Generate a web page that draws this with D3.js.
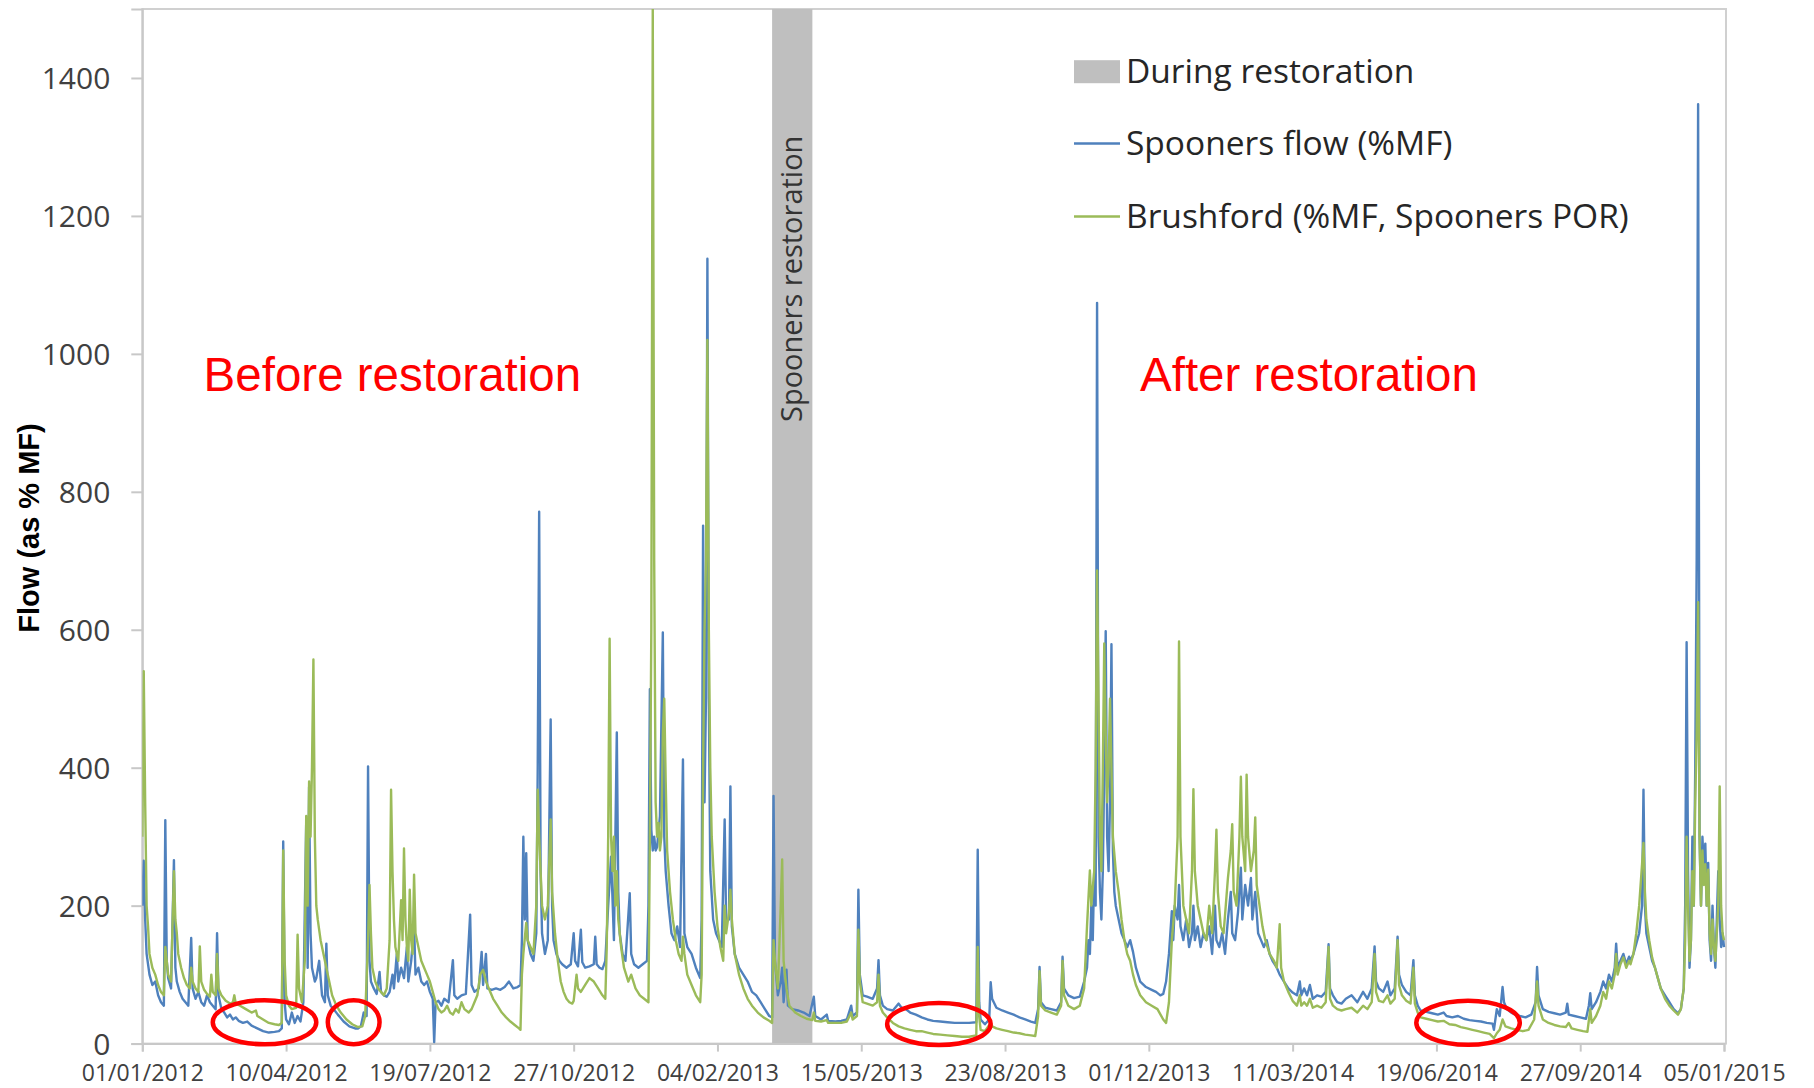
<!DOCTYPE html>
<html>
<head>
<meta charset="utf-8">
<script src="https://cdn.jsdelivr.net/npm/d3@7"></script>
<style>
  html, body { margin: 0; padding: 0; background: #fff; }
  svg { display: block; }
</style>
</head>
<body>
<svg id="chart"></svg>
<script>
// Flow as % of mean flow.
// Each point is [days since 01/01/2012, value].
const startDate = new Date(Date.UTC(2012, 0, 1));
const xTickDates = ["2012-01-01","2012-04-10","2012-07-19","2012-10-27","2013-02-04","2013-05-15",
                    "2013-08-23","2013-12-01","2014-03-11","2014-06-19","2014-09-27","2015-01-05"];
const yTicks = [0, 200, 400, 600, 800, 1000, 1200, 1400];
const restoration = ["2013-03-14", "2013-04-11"];
const legendLabels = ["During restoration", "Spooners flow (%MF)", "Brushford (%MF, Spooners POR)"];
const periodLabels = ["Before restoration", "After restoration"];
// low-flow circles: [centre day, centre value, half width in days, half height in value]
const lowFlowRings = [[85, 31, 36.5, 32], [147, 31, 18.4, 32], [554.6, 28.4, 35.5, 30.5], [922.2, 30.3, 36.2, 32]];

const spooners = [
  [0,200],[1,265],[2,180],[3,130],[5,100],[7,85],[9,90],[11,70],[13,60],[15,55],[16,324],[17,120],[18,95],[20,80],
  [22,266],[23,110],[24,90],[26,75],[28,65],[30,60],[32,55],[34,153],[35,80],[37,65],[39,75],[41,60],[43,55],[45,70],
  [47,60],[49,55],[51,50],[52,160],[53,70],[55,50],[57,45],[59,38],[61,42],[63,35],[65,38],[67,33],[70,30],[73,32],
  [76,26],[80,22],[84,18],[88,16],[92,17],[95,18],[97,22],[98,293],[99,60],[100,35],[102,28],[104,45],[106,30],[108,40],
  [110,32],[112,60],[114,322],[115,110],[116,372],[117,160],[118,110],[120,90],[121,95],[123,120],[125,70],[127,60],
  [128,145],[129,70],[131,55],[133,50],[136,42],[140,32],[144,25],[148,22],[150,22],[152,25],[154,45],[156,40],[157,402],
  [158,120],[159,90],[161,80],[163,72],[165,104],[166,75],[168,70],[170,68],[172,75],[174,100],[175,80],[177,130],[178,90],
  [180,110],[182,95],[184,140],[185,90],[187,120],[189,170],[190,100],[192,110],[194,90],[196,85],[198,90],[200,75],
  [202,65],[203,2],[204,60],[206,62],[208,55],[210,65],[213,60],[216,121],[217,70],[219,65],[222,70],[225,72],[228,187],
  [229,85],[231,75],[234,80],[236,133],[237,85],[239,130],[240,80],[243,78],[246,80],[249,78],[252,82],[255,90],[258,80],
  [261,82],[263,85],[264,150],[265,300],[266,180],[267,276],[268,150],[270,130],[272,120],[274,160],[275,400],[276,771],
  [277,250],[278,160],[280,130],[282,150],[284,470],[285,200],[286,150],[288,130],[290,120],[292,115],[295,110],[298,115],
  [300,160],[301,120],[303,112],[305,165],[306,118],[308,110],[311,112],[314,115],[315,155],[316,115],[318,110],[320,108],
  [322,120],[324,200],[326,271],[328,150],[330,451],[331,220],[332,160],[334,130],[336,120],[339,218],[340,130],[342,115],
  [345,110],[348,115],[351,120],[352,200],[353,514],[354,310],[355,280],[356,300],[357,280],[358,285],[360,330],[362,596],
  [363,300],[364,250],[366,200],[368,160],[370,150],[372,170],[374,140],[376,412],[377,160],[379,140],[382,130],[385,110],
  [388,95],[389,180],[390,751],[391,350],[392,500],[393,1138],[394,500],[395,250],[397,180],[399,160],[401,150],[403,140],
  [405,325],[406,180],[408,180],[409,373],[410,170],[412,130],[415,110],[418,100],[421,90],[424,75],[427,70],[430,60],
  [433,50],[436,40],[438,38],[439,359],[440,120],[442,70],[444,90],[445,110],[446,60],[448,107],[449,55],[452,50],[456,48],
  [460,45],[464,40],[467,68],[468,40],[472,35],[476,42],[477,33],[482,32],[486,33],[490,35],[493,55],[494,40],[497,45],
  [498,223],[499,100],[501,70],[504,68],[508,65],[511,80],[512,121],[513,70],[515,55],[518,50],[522,48],[526,58],[528,52],
  [531,50],[534,45],[538,42],[542,38],[546,35],[550,33],[555,32],[560,31],[565,30],[570,30],[575,30],[580,31],[581,281],
  [582,60],[583,35],[586,28],[589,35],[590,89],[591,65],[594,52],[598,48],[602,45],[606,42],[610,38],[614,35],[618,32],
  [621,30],[623,50],[624,111],[625,60],[628,52],[632,50],[636,48],[639,60],[640,126],[641,80],[644,70],[648,66],[652,68],
  [655,90],[657,110],[658,150],[659,130],[660,200],[661,150],[662,250],[663,200],[664,1074],[665,300],[666,220],[667,180],
  [668,250],[669,400],[670,598],[671,300],[672,250],[673,350],[674,579],[675,280],[676,220],[677,200],[679,180],[681,160],
  [683,150],[685,140],[687,150],[689,133],[691,110],[694,90],[698,82],[702,78],[705,75],[708,70],[710,72],[712,90],
  [714,130],[716,192],[717,150],[718,200],[720,180],[721,230],[722,170],[724,150],[726,180],[728,140],[730,160],[731,200],
  [732,150],[734,170],[736,140],[738,160],[740,150],[742,170],[744,130],[746,200],[747,150],[749,140],[751,160],[753,130],
  [755,180],[757,220],[758,160],[760,150],[762,190],[764,255],[765,180],[767,230],[769,200],[771,240],[772,180],[774,220],
  [776,160],[778,150],[780,140],[782,150],[784,130],[786,120],[789,110],[791,100],[794,90],[797,80],[800,74],[803,70],
  [805,90],[806,70],[808,80],[810,70],[812,85],[814,65],[817,70],[820,68],[823,75],[825,144],[826,80],[828,70],[831,60],
  [834,58],[837,65],[841,70],[845,60],[849,75],[852,65],[855,80],[857,141],[858,90],[860,80],[863,75],[866,90],[868,70],
  [871,80],[873,155],[874,100],[876,85],[879,75],[882,70],[884,121],[885,70],[887,55],[889,48],[893,46],[897,44],[901,42],
  [905,45],[907,40],[911,38],[915,40],[919,36],[923,34],[927,33],[931,32],[935,30],[939,29],[940,20],[942,50],[944,40],
  [946,82],[947,60],[949,50],[952,45],[955,42],[958,40],[962,38],[966,42],[969,60],[970,111],[971,70],[974,50],[978,46],
  [982,44],[986,42],[990,45],[991,58],[992,42],[996,40],[1000,38],[1004,36],[1006,55],[1007,73],[1008,50],[1011,60],
  [1014,75],[1016,90],[1018,80],[1020,100],[1022,90],[1024,110],[1025,145],[1026,110],[1028,120],[1030,130],[1032,115],
  [1034,126],[1035,120],[1037,130],[1039,145],[1041,160],[1043,200],[1044,368],[1045,200],[1046,160],[1048,140],[1050,120],
  [1052,110],[1054,95],[1056,80],[1059,70],[1062,60],[1065,50],[1068,44],[1070,50],[1072,80],[1073,200],[1074,582],
  [1075,250],[1076,110],[1077,150],[1078,300],[1079,200],[1080,400],[1081,700],[1082,1362],[1083,300],[1084,200],
  [1085,300],[1086,250],[1087,290],[1088,200],[1089,262],[1090,150],[1091,120],[1092,200],[1093,140],[1094,110],
  [1096,250],[1097,180],[1098,140],[1099,160],[1100,140]
];

const brushford = [
  [0,300],[1,540],[2,350],[3,200],[4,170],[5,130],[7,110],[9,100],[11,85],[13,75],[15,70],[16,140],[17,120],[18,100],
  [20,90],[22,250],[23,180],[24,160],[25,130],[27,110],[29,95],[31,85],[33,80],[34,110],[35,90],[37,80],[39,75],[40,141],
  [41,90],[43,78],[45,72],[47,68],[48,100],[49,75],[51,70],[52,130],[53,80],[55,70],[58,62],[61,58],[63,60],[64,70],
  [65,58],[68,55],[72,50],[76,45],[79,48],[80,40],[84,35],[88,30],[92,28],[95,27],[97,30],[98,280],[99,120],[100,70],
  [102,55],[104,50],[107,52],[108,158],[109,80],[111,60],[113,120],[114,330],[115,200],[116,380],[117,300],[118,400],
  [119,557],[120,300],[121,200],[122,180],[124,150],[126,130],[128,110],[130,90],[132,70],[135,55],[138,45],[142,35],
  [146,28],[150,24],[153,25],[155,40],[157,150],[158,230],[159,160],[160,110],[162,90],[164,80],[166,75],[168,70],[170,80],
  [172,150],[173,368],[174,250],[175,180],[176,140],[178,120],[180,208],[181,150],[182,283],[183,180],[184,140],[185,120],
  [186,223],[187,150],[188,130],[189,245],[190,160],[192,140],[194,120],[196,110],[198,100],[200,90],[202,75],[204,60],
  [206,50],[208,45],[210,48],[212,55],[214,45],[216,42],[218,50],[220,45],[222,60],[224,50],[227,45],[229,50],[231,60],
  [233,70],[235,100],[237,107],[239,90],[241,80],[244,65],[247,55],[250,45],[253,38],[256,32],[259,27],[262,22],[263,20],
  [264,100],[265,130],[267,175],[268,150],[270,140],[272,130],[274,200],[275,368],[276,300],[277,250],[278,200],[280,180],
  [282,200],[284,325],[285,220],[287,160],[289,120],[291,90],[293,75],[295,65],[297,60],[299,58],[300,62],[302,100],
  [303,80],[305,75],[308,85],[311,95],[314,90],[317,80],[320,70],[322,65],[323,140],[324,300],[325,587],[326,300],[327,250],
  [328,300],[329,200],[330,250],[331,180],[333,140],[335,110],[338,90],[340,100],[343,80],[346,70],[349,65],[352,60],
  [353,300],[354,600],[355,1500],[356,700],[357,350],[358,300],[359,320],[360,280],[361,300],[362,450],[363,500],[364,380],
  [365,280],[367,220],[369,180],[371,150],[373,130],[375,120],[376,155],[377,130],[379,100],[382,85],[385,70],[388,60],
  [389,100],[390,400],[391,600],[392,700],[393,1020],[394,600],[395,400],[396,300],[398,220],[400,170],[402,140],[404,120],
  [405,200],[406,160],[408,190],[409,223],[410,180],[412,130],[415,100],[418,80],[421,65],[424,55],[428,45],[432,38],
  [436,33],[438,30],[439,150],[440,120],[442,80],[444,200],[445,267],[446,120],[448,80],[450,55],[454,45],[458,40],[462,36],
  [466,34],[467,45],[468,33],[472,32],[476,34],[477,30],[482,30],[486,30],[490,32],[493,45],[494,35],[497,40],[498,165],
  [499,90],[501,60],[504,58],[508,55],[511,60],[512,100],[513,55],[515,45],[518,38],[522,30],[526,25],[530,22],[534,20],
  [538,18],[542,18],[546,16],[550,14],[555,13],[560,12],[565,11],[570,10],[575,10],[580,12],[581,140],[582,40],[583,20],
  [586,18],[590,30],[591,25],[594,22],[598,20],[602,18],[606,16],[610,15],[614,13],[618,12],[621,11],[623,40],[624,105],
  [625,55],[628,48],[632,45],[636,42],[639,55],[640,120],[641,70],[644,55],[648,50],[652,55],[655,80],[657,170],[659,251],
  [660,200],[662,250],[663,400],[664,686],[665,500],[666,300],[667,250],[668,400],[669,580],[670,450],[671,350],[672,400],
  [673,500],[674,400],[675,300],[677,250],[679,220],[681,180],[683,150],[685,130],[687,120],[689,100],[691,85],[694,70],
  [698,60],[702,55],[706,50],[710,35],[712,30],[714,60],[716,150],[718,200],[720,300],[721,583],[722,300],[724,200],
  [726,180],[728,160],[730,250],[731,369],[732,250],[734,200],[736,180],[738,160],[740,150],[742,200],[744,160],[746,250],
  [747,310],[748,220],[750,170],[752,160],[755,240],[757,280],[758,318],[759,220],[761,200],[763,300],[764,387],[765,300],
  [767,250],[768,390],[769,300],[771,250],[773,280],[774,328],[775,230],[777,200],[779,170],[781,150],[784,130],[787,120],
  [789,110],[791,173],[792,110],[794,90],[797,75],[800,62],[803,55],[805,70],[806,55],[808,60],[810,55],[812,65],[814,52],
  [817,55],[820,52],[823,60],[825,140],[826,65],[828,55],[831,50],[834,48],[837,50],[841,52],[845,45],[849,55],[852,50],
  [855,60],[857,130],[858,75],[860,62],[863,60],[866,70],[868,58],[871,65],[873,150],[874,85],[876,70],[879,62],[882,58],
  [884,110],[885,58],[887,45],[889,38],[893,36],[897,34],[901,32],[905,33],[909,28],[913,27],[917,24],[921,22],[925,20],
  [929,18],[933,16],[937,14],[940,8],[942,15],[944,20],[946,35],[948,25],[952,22],[956,20],[960,18],[964,20],[968,35],
  [970,90],[971,55],[974,35],[978,30],[982,27],[986,25],[990,24],[992,30],[994,22],[998,20],[1002,18],[1005,17],[1007,50],
  [1008,30],[1011,40],[1014,55],[1016,75],[1018,65],[1020,90],[1022,80],[1024,100],[1025,130],[1026,100],[1028,115],
  [1030,125],[1032,110],[1034,120],[1035,115],[1037,130],[1039,160],[1041,200],[1043,260],[1044,291],[1045,220],[1046,180],
  [1048,150],[1050,125],[1052,110],[1054,95],[1056,80],[1059,65],[1062,55],[1065,48],[1068,42],[1070,50],[1072,80],
  [1073,150],[1074,300],[1075,200],[1076,120],[1077,150],[1078,250],[1079,200],[1080,350],[1081,450],[1082,640],[1083,300],
  [1084,200],[1085,280],[1086,230],[1087,260],[1088,200],[1089,252],[1090,160],[1091,130],[1092,180],[1093,140],[1094,120],
  [1096,200],[1097,373],[1098,200],[1099,160],[1100,150]
];

const width = 1814,
      height = 1088,
      plotLeft = 142.3, plotRight = 1726,      // plot frame
      plotTop = 9, plotBottom = 1043.6,
      blue = "#4f81bd",
      green = "#9bbb59",
      grey = "#bfbfbf",
      font = "'Open Sans', 'Noto Sans', sans-serif";

const parse = d3.utcParse("%Y-%m-%d");
const fmt = d3.utcFormat("%d/%m/%Y");
const day = d => d3.utcDay.offset(startDate, d);

const svg = d3.select("#chart")
  .attr("width", width)
  .attr("height", height)
  .style("background", "#fff");

const x = d3.scaleUtc()
  .domain([startDate, parse("2015-01-05")])
  .range([plotLeft, 1724]);

const y = d3.scaleLinear()
  .domain([0, 1500])
  .range([plotBottom, plotTop]);

svg.append("defs").append("clipPath").attr("id", "plotClip")
  .append("rect")
  .attr("x", plotLeft).attr("y", plotTop)
  .attr("width", plotRight - plotLeft).attr("height", plotBottom - plotTop);

// frame
svg.append("rect")
  .attr("x", plotLeft).attr("y", plotTop)
  .attr("width", plotRight - plotLeft).attr("height", plotBottom - plotTop)
  .attr("fill", "none")
  .attr("stroke", "#d0d0d0")
  .attr("stroke-width", 2);

// restoration band
const b0 = x(parse(restoration[0])), b1 = x(parse(restoration[1]));
svg.append("rect")
  .attr("x", b0).attr("y", plotTop)
  .attr("width", b1 - b0).attr("height", plotBottom - plotTop)
  .attr("fill", grey);

svg.append("text")
  .attr("transform", "translate(" + ((b0 + b1) / 2 + 10) + "," + 422 + ") rotate(-90)")
  .attr("font-family", font)
  .attr("font-size", 29)
  .attr("fill", "#333")
  .text("Spooners restoration");

// axes
const yAxis = svg.append("g")
  .attr("transform", "translate(" + plotLeft + ",0)")
  .call(d3.axisLeft(y).tickValues(yTicks).tickFormat(d3.format("d")).tickSize(11).tickPadding(21));

const xAxis = svg.append("g")
  .attr("transform", "translate(0," + plotBottom + ")")
  .call(d3.axisBottom(x).tickValues(xTickDates.map(parse)).tickFormat(fmt).tickSize(8));

[yAxis, xAxis].forEach(a => {
  a.select(".domain").attr("stroke", "#c8c8c8").attr("stroke-width", 2);
  a.selectAll(".tick line").attr("stroke", "#c8c8c8").attr("stroke-width", 2);
  a.selectAll("text").attr("font-family", font).attr("fill", "#404040");
});
yAxis.selectAll("text").attr("font-size", 30).attr("dy", "0.36em");
xAxis.selectAll("text").attr("font-size", 23).attr("dy", 0).attr("y", 37.5);

// series
const line = d3.line()
  .x(d => x(day(d[0])))
  .y(d => y(d[1]));

const lines = svg.append("g").attr("clip-path", "url(#plotClip)");

lines.append("path")
  .datum(spooners)
  .attr("d", line)
  .attr("fill", "none")
  .attr("stroke", blue)
  .attr("stroke-width", 2.4)
  .attr("stroke-linejoin", "round");

lines.append("path")
  .datum(brushford)
  .attr("d", line)
  .attr("fill", "none")
  .attr("stroke", green)
  .attr("stroke-width", 2.4)
  .attr("stroke-linejoin", "round");

// red low-flow rings
svg.append("g").selectAll("ellipse")
  .data(lowFlowRings)
  .enter().append("ellipse")
  .attr("cx", d => x(day(d[0])))
  .attr("cy", d => y(d[1]))
  .attr("rx", d => x(day(d[0] + d[2])) - x(day(d[0])))
  .attr("ry", d => y(0) - y(d[3]))
  .attr("fill", "none")
  .attr("stroke", "#ff0000")
  .attr("stroke-width", 4.5);

// y title
svg.append("text")
  .attr("transform", "translate(39,528) rotate(-90)")
  .attr("text-anchor", "middle")
  .attr("font-family", "'Liberation Sans', Arial, sans-serif")
  .attr("font-weight", "bold")
  .attr("font-size", 29)
  .attr("fill", "#000")
  .text("Flow (as % MF)");

// period labels
svg.selectAll(".period")
  .data(periodLabels)
  .enter().append("text")
  .attr("class", "period")
  .attr("x", (d, i) => i ? 1140 : 203.6)
  .attr("y", 391)
  .attr("font-family", "'Liberation Sans', Arial, sans-serif")
  .attr("font-size", 47.5)
  .attr("fill", "#ff0000")
  .text(d => d);

// legend
const legend = svg.append("g").attr("transform", "translate(1074,0)");
const rowY = [71.7, 143.5, 216.4];

legend.append("rect")
  .attr("x", 0).attr("y", rowY[0] - 11.5)
  .attr("width", 46).attr("height", 23)
  .attr("fill", grey);

[blue, green].forEach((c, i) => {
  legend.append("line")
    .attr("x1", 0).attr("x2", 46)
    .attr("y1", rowY[i + 1]).attr("y2", rowY[i + 1])
    .attr("stroke", c)
    .attr("stroke-width", 2.5);
});

legend.selectAll("text")
  .data(legendLabels)
  .enter().append("text")
  .attr("x", 52)
  .attr("y", (d, i) => rowY[i] + 11.5)
  .attr("font-family", font)
  .attr("font-size", 33.5)
  .attr("fill", "#262626")
  .text(d => d);
</script>
</body>
</html>
